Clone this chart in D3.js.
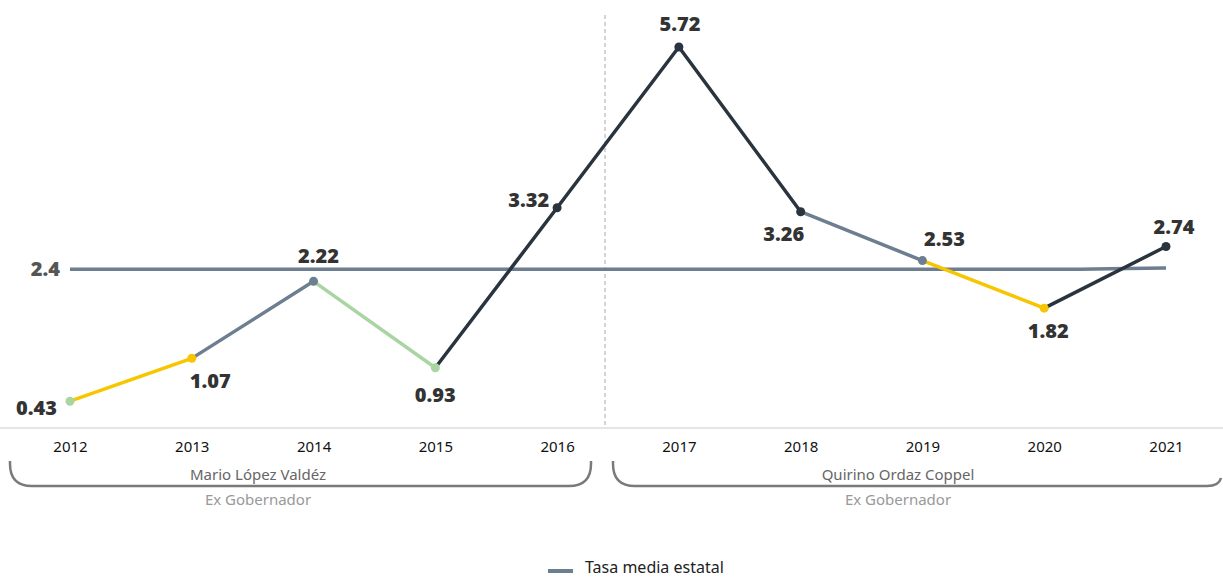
<!DOCTYPE html>
<html lang="es">
<head>
<meta charset="UTF-8">
<title>Tasa por año</title>
<style>
    body { margin: 0; background: #fff; font-family: 'Open Sans', sans-serif; }
    .val { font-weight: 800; font-size: 20px; fill: #333; }
    .tick-year { font-size: 15px; fill: #111; font-family: 'Noto Sans', sans-serif; }
    .gov { font-size: 15px; fill: #666; font-family: 'Noto Sans', sans-serif; }
    .role { font-size: 15px; fill: #999; font-family: 'Noto Sans', sans-serif; }
</style>
</head>
<body>
<div id="chart"></div>
<script src="https://d3js.org/d3.v7.min.js"></script>
<script>
    // data
    const years = ["2012", "2013", "2014", "2015", "2016", "2017", "2018", "2019", "2020", "2021"];
    const tasa = [0.43, 1.07, 2.22, 0.93, 3.32, 5.72, 3.26, 2.53, 1.82, 2.74];
    const media = [2.4, 2.4, 2.4, 2.4, 2.4, 2.4, 2.4, 2.4, 2.4, 2.42];
    const mediaLabel = "2.4";
    const governors = [
        { name: "Mario López Valdéz", role: "Ex Gobernador" },
        { name: "Quirino Ordaz Coppel", role: "Ex Gobernador" }
    ];
    const legendLabel = "Tasa media estatal";

    // label placement (dx, dy, anchor) per point
    const labelPos = [
        [-13, 14, "end"], [-2, 30, "start"], [5, -18, "middle"], [0, 34, "middle"],
        [-8, -1, "end"], [1, -16, "middle"], [-17, 29, "middle"], [22, -15, "middle"],
        [4, 30, "middle"], [8, -13, "middle"]
    ];
    // bracket extents and label centres
    const bracket = [[10, 591, 258], [613, 1221, 898]];

    const width = 1223, height = 577;
    const svg = d3.select("#chart").append("svg")
        .attr("width", width).attr("height", height);

    const x = d3.scalePoint().domain(years).range([70, 1166]);
    const y = d3.scaleLinear().domain([0, 5.72]).range([430, 47]);

    const color = d3.scaleThreshold()
        .domain([1, 2, 2.6])
        .range(["#a9d5a3", "#f7c600", "#6d7e90", "#29343f"]);

    // baseline
    svg.append("line")
        .attr("x1", 0).attr("x2", width)
        .attr("y1", 428).attr("y2", 428)
        .attr("stroke", "#dcdcdc").attr("stroke-width", 1.5);

    // divider between terms
    const divX = (x("2016") + x("2017")) / 2 - 13;
    svg.append("line")
        .attr("x1", divX).attr("x2", divX)
        .attr("y1", 15).attr("y2", 428)
        .attr("stroke", "#aaa").attr("stroke-width", 1)
        .attr("stroke-dasharray", "4,3");

    // mean line
    svg.append("path")
        .datum(media)
        .attr("fill", "none")
        .attr("stroke", "#6d7e90")
        .attr("stroke-width", 3.5)
        .attr("d", d3.line()
            .x((d, i) => x(years[i]))
            .y(d => y(d))
            .curve(d3.curveMonotoneX));

    svg.append("text")
        .attr("class", "val")
        .style("fill", "#555")
        .attr("x", 60).attr("y", y(media[0]) + 7)
        .attr("text-anchor", "end")
        .text(mediaLabel);

    // segments coloured by the end point
    const segs = d3.pairs(tasa.map((v, i) => ({ v, year: years[i] })));
    svg.append("g").selectAll("line")
        .data(segs)
        .join("line")
        .attr("x1", d => x(d[0].year)).attr("y1", d => y(d[0].v))
        .attr("x2", d => x(d[1].year)).attr("y2", d => y(d[1].v))
        .attr("stroke", d => color(d[1].v))
        .attr("stroke-width", 3.5)
        .attr("stroke-linecap", "round");

    svg.append("g").selectAll("circle")
        .data(tasa)
        .join("circle")
        .attr("cx", (d, i) => x(years[i]))
        .attr("cy", d => y(d))
        .attr("r", 4.5)
        .attr("fill", d => color(d));

    svg.append("g").selectAll("text")
        .data(tasa)
        .join("text")
        .attr("class", "val")
        .attr("x", (d, i) => x(years[i]) + labelPos[i][0])
        .attr("y", (d, i) => y(d) + labelPos[i][1])
        .attr("text-anchor", (d, i) => labelPos[i][2])
        .text(d => d.toFixed(2));

    // year axis
    const axis = svg.append("g")
        .attr("transform", "translate(0,452)")
        .call(d3.axisBottom(x).tickSize(0).tickPadding(0));
    axis.select(".domain").remove();
    axis.selectAll("text").attr("class", "tick-year").attr("dy", 0);

    // governor brackets
    const rad = 22, bTop = 461, bBot = 486;
    governors.forEach((g, i) => {
        const [a, b, cx] = bracket[i];
        const p = d3.path();
        p.moveTo(a, bTop);
        p.lineTo(a, bBot - rad);
        p.quadraticCurveTo(a, bBot, a + rad, bBot);
        if (i === 1) {
            p.lineTo(b - 14, bBot);
            p.quadraticCurveTo(b - 2, bBot, b, bBot - 8);
        } else {
            p.lineTo(b - rad, bBot);
            p.quadraticCurveTo(b, bBot, b, bBot - rad);
            p.lineTo(b, bTop);
        }
        svg.append("path")
            .attr("d", p.toString())
            .attr("fill", "none")
            .attr("stroke", "#7a7a7a")
            .attr("stroke-width", 2.5);

        svg.append("text").attr("class", "gov")
            .attr("x", cx).attr("y", 480)
            .attr("text-anchor", "middle").text(g.name);
        svg.append("text").attr("class", "role")
            .attr("x", cx).attr("y", 505)
            .attr("text-anchor", "middle").text(g.role);
    });

    // legend
    svg.append("line")
        .attr("x1", 548).attr("x2", 573)
        .attr("y1", 571).attr("y2", 571)
        .attr("stroke", "#6d7e90").attr("stroke-width", 4);
    svg.append("text")
        .attr("x", 585).attr("y", 573)
        .style("font-size", "16px").style("fill", "#222")
        .style("font-family", "'Noto Sans', sans-serif")
        .text(legendLabel);
</script>
</body>
</html>
